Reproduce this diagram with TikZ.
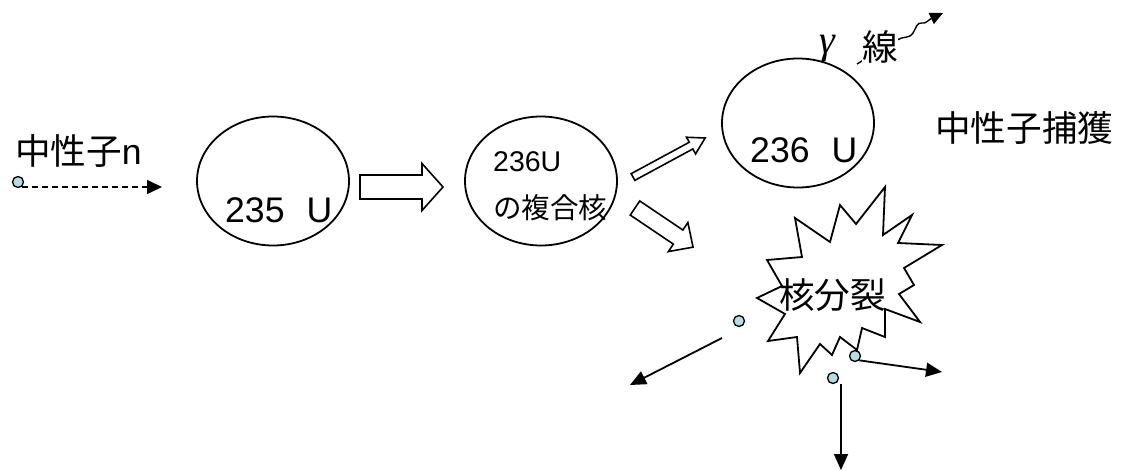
\documentclass[tikz,border=0pt]{standalone}
\usepackage{fontspec}
\setmainfont{Liberation Sans}
\newfontfamily\cjk{Noto Sans CJK JP}
\newfontfamily\gfont{Liberation Serif}
\usetikzlibrary{arrows.meta,shapes.geometric}
\definecolor{dotc}{RGB}{180,222,226}
\newcommand\blockarr[7]{\draw[hollow,shift={(#1,#2)},rotate=#3] (0,-#5) -- ({#4-#7},-#5) -- ({#4-#7},-#6) -- (#4,0) -- ({#4-#7},#6) -- ({#4-#7},#5) -- (0,#5) -- cycle;}
\begin{document}
\begin{tikzpicture}[x=1pt,y=-1pt,
  oval/.style={draw,line width=1.8pt,ellipse,minimum width=152pt,minimum height=129pt,inner sep=0pt},
  lab/.style={inner sep=0pt,font=\fontsize{35.6}{40}\selectfont},
  slab/.style={inner sep=0pt,font=\fontsize{28.5}{32}\selectfont},
  neutron/.style={circle,draw,line width=1.3pt,fill=dotc,minimum size=11pt,inner sep=0pt},
  ray/.style={line width=1.8pt,-{Triangle[length=16pt,width=14pt]}},
  hollow/.style={draw,line width=1.6pt,fill=white,line join=miter},
]
\useasboundingbox (0,0) rectangle (1122,471);

% incoming neutron
\node[lab,anchor=base west] (nlab) at (15,164) {{\cjk 中性子}n};
\node[neutron] (n0) at (18,182) {};
\coordinate (n0end) at (162,187);
\draw[line width=1.5pt,dash pattern=on 6pt off 4pt,-{Triangle[length=15pt,width=14pt]}] (22,187) -- (n0end);

% U235
\node[oval] (u235) at (273,181) {};
\node[lab,anchor=base west] (u235t) at (225,222) {235\hspace{0.62em}U};
\blockarr{360}{187}{0}{83}{12}{23.5}{21}

% compound nucleus
\node[oval] (comp) at (541,181) {};
\node[slab,anchor=base west] (compa) at (493,171) {236U};
\node[slab,anchor=base west] (compb) at (493,218) {\cjk の複合核};
\blockarr{633}{177}{28.4}{82}{3.8}{9.5}{16}
\blockarr{635}{208}{-34}{70}{8.5}{17.5}{18}

% U236
\node[oval] (u236) at (798,123) {};
\node[lab,anchor=base west] (u236t) at (750,162) {236\hspace{0.62em}U};
\node[inner sep=0pt,font=\fontsize{40}{44}\selectfont\gfont\itshape,anchor=base] (gam) at (827,53) {γ};
\coordinate (w0) at (857,64);
\coordinate (w1) at (897,40);
\coordinate (w2) at (943,13);
\draw[line width=1.4pt,-{Triangle[length=13pt,width=12pt]}] (w0) -- (w1)
  .. controls (903,36) and (909,39) .. (913,33)
  .. controls (916,28) and (917,22) .. (922,23)
  .. controls (926,24) and (928,20) .. (w2);
\node[lab,anchor=base west,fill=white] (sen) at (862,60) {\cjk 線};
\node[lab,anchor=base west] (cap) at (935,141) {\cjk 中性子捕獲};

% fission
\draw[line width=1.8pt,fill=white,line join=miter] (885,187) -- (883,235) -- (912,215) -- (898,243) -- (942,245) -- (904,268) -- (914,285) -- (899,294) -- (920,322) -- (885,309) -- (885,337) -- (862,328) -- (857,350) -- (840,337) -- (832,355) -- (820,344) -- (800,373) -- (797,337) -- (768,341) -- (785,314) -- (757,298) -- (782,286) -- (767,260) -- (802,257) -- (795,218) -- (830,242) -- (840,205) -- (856,224) -- cycle;
\node[lab,anchor=base west] (fis) at (779,308) {\cjk 核分裂};

\node[neutron] (n1) at (739,321) {};
\node[neutron] (n2) at (855,356) {};
\node[neutron] (n3) at (833,378) {};
\coordinate (e1a) at (722,338);
\coordinate (e1b) at (630,385);
\coordinate (e2b) at (942,372);
\coordinate (e3b) at (841,470);
\draw[ray] (e1a) -- (e1b);
\draw[ray] (n2.south east) -- (e2b);
\draw[ray] (841,384) -- (e3b);
\end{tikzpicture}
\end{document}
